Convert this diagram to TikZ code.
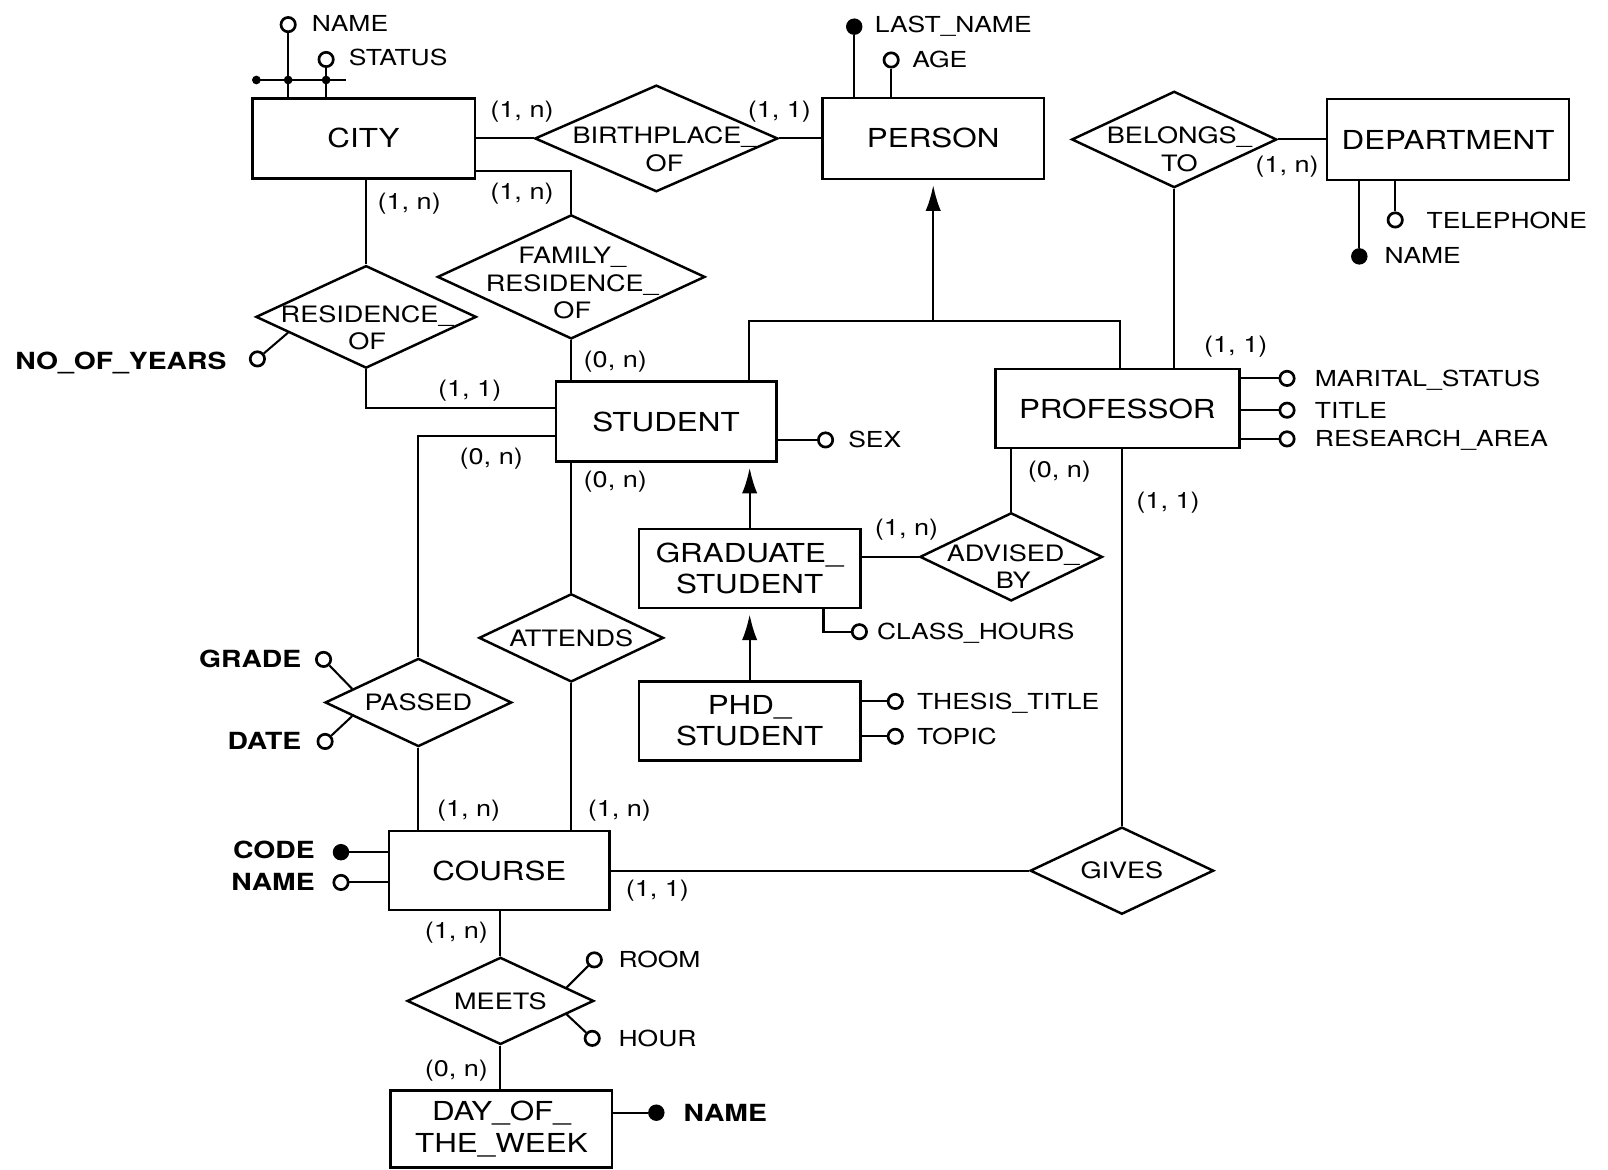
\documentclass[tikz,border=0pt]{standalone}
\usepackage{fontspec}
\newfontfamily\erfont[FakeStretch=1.2]{TeX Gyre Heros}
\usetikzlibrary{shapes.geometric,arrows.meta,calc}

\tikzset{
  entity/.style={draw, line width=2.4pt, rectangle, inner sep=0pt, align=center,
    font=\erfont\fontsize{25.5}{30.5}\selectfont},
  relship/.style={draw, line width=2.4pt, diamond, inner sep=0pt},
  reltext/.style={inner sep=0pt, align=center, font=\erfont\fontsize{22}{26.5}\selectfont},
  card/.style={inner sep=0pt, text height=15.5pt, text depth=0pt,
    font=\erfont\fontsize{22}{24}\selectfont},
  attrtext/.style={inner sep=0pt, text height=15.4pt, text depth=0pt,
    font=\erfont\fontsize{21.5}{24}\selectfont},
  keytext/.style={inner sep=0pt, text height=16.5pt, text depth=0pt,
    font=\erfont\bfseries\fontsize{23}{26}\selectfont},
  attr/.style={circle, draw, line width=2.6pt, fill=white, minimum size=14pt, inner sep=0pt},
  keyattr/.style={circle, draw, line width=1pt, fill=black, minimum size=15pt, inner sep=0pt},
  joint/.style={circle, fill=black, minimum size=8.5pt, inner sep=0pt},
  link/.style={line width=2pt},
  isa/.style={line width=2pt, -{Latex[length=25pt,width=15pt]}, shorten >=5pt},
}

\begin{document}
\begin{tikzpicture}[x=1pt,y=-1pt]
\fill[white] (0,0) rectangle (1568,1140);
\useasboundingbox (0,0) rectangle (1568,1140);

% ---------- entities ----------
\node[entity, minimum width=217, minimum height=78] (city)    at (354.5,135)  {CITY};
\node[entity, minimum width=216, minimum height=79] (person)  at (910,135)    {PERSON};
\node[entity, minimum width=236, minimum height=79] (dept)    at (1412,136)   {DEPARTMENT};
\node[entity, minimum width=215, minimum height=78] (student) at (649.5,411)  {STUDENT};
\node[entity, minimum width=238, minimum height=77] (prof)    at (1089.5,398.5) {PROFESSOR};
\node[entity, minimum width=216, minimum height=77] (grad)    at (731,554.5)  {GRADUATE\_\\STUDENT};
\node[entity, minimum width=216, minimum height=77] (phd)     at (731,703)    {PHD\_\\STUDENT};
\node[entity, minimum width=215, minimum height=77] (course)  at (487,849)    {COURSE};
\node[entity, minimum width=216, minimum height=75] (day)     at (489,1101)   {DAY\_OF\_\\THE\_WEEK};

% ---------- relationships ----------
\node[relship, minimum width=237, minimum height=104] (bp)  at (640,135)  {};
\node[relship, minimum width=200, minimum height=94]  (bel) at (1145,136) {};
\node[relship, minimum width=215, minimum height=100] (res) at (357,309)  {};
\node[relship, minimum width=261, minimum height=121] (fro) at (557,270)  {};
\node[relship, minimum width=178, minimum height=86]  (adv) at (986,543)  {};
\node[relship, minimum width=180, minimum height=86]  (att) at (557,622)  {};
\node[relship, minimum width=182, minimum height=86]  (pas) at (408,685)  {};
\node[relship, minimum width=179, minimum height=85]  (giv) at (1094,849) {};
\node[relship, minimum width=182, minimum height=85]  (mee) at (488,976)  {};

\node[reltext] (bp-t)  at ([xshift=8pt,yshift=-10.5pt]bp.center)  {BIRTHPLACE\_\\OF};
\node[reltext] (bel-t) at ([xshift=5pt,yshift=-9.5pt]bel.center)  {BELONGS\_\\TO};
\node[reltext] (res-t) at ([xshift=1pt,yshift=-11pt]res.center)   {RESIDENCE\_\\OF};
\node[reltext] (fro-t) at ([xshift=1pt,yshift=-6pt]fro.center)    {FAMILY\_\\RESIDENCE\_\\OF};
\node[reltext] (adv-t) at ([xshift=2pt,yshift=-9.5pt]adv.center)  {ADVISED\_\\BY};
\node[reltext] (att-t) at (att) {ATTENDS};
\node[reltext] (pas-t) at (pas) {PASSED};
\node[reltext] (giv-t) at (giv) {GIVES};
\node[reltext] (mee-t) at (mee) {MEETS};

% ---------- relationship links ----------
\draw[link] (city.east) -- (bp.west);
\draw[link] (bp.east) -- (person.west);
\draw[link] ([yshift=8pt]city.south east) -| (fro.north);
\draw[link] (res.north) -- (res.north |- city.south);
\draw[link] (res.south) |- ([yshift=13pt]student.west);
\draw[link] (fro.south) -- (fro.south |- student.north);
\draw[link] ([yshift=-14pt]student.west) -| (pas.north);
\draw[link] (att.north) -- (att.north |- student.south);
\draw[link] (pas.south) -- (pas.south |- course.north);
\draw[link] (att.south) -- (att.south |- course.north);
\draw[link] (course.east) -- (giv.west);
\draw[link] (giv.north) -- (giv.north |- prof.south);
\draw[link] (adv.north) -- (adv.north |- prof.south);
\draw[link] (adv.west -| grad.east) -- (adv.west);
\draw[link] (bel.south) -- (bel.south |- prof.north);
\draw[link] (bel.east) -- (dept.west);
\draw[link] (mee.north) -- (mee.north |- course.south);
\draw[link] (mee.south) -- (mee.south |- day.north);

% ---------- generalisations ----------
\coordinate (isaL) at (730,313);
\coordinate (isaR) at (1092,313);
\draw[link] (isaL |- student.north) -- (isaL) -- (isaR) -- (isaR |- prof.north);
\draw[isa] (isaL -| person.south) -- (person.south);
\draw[isa] (grad.north) -- (grad.north |- student.south);
\draw[isa] (phd.north) -- (phd.north |- grad.south);

% ---------- cardinalities ----------
\node[card] (k1)  at (509,107)  {(1, n)};
\node[card] (k2)  at (760,107)  {(1, 1)};
\node[card] (k3)  at (509,187)  {(1, n)};
\node[card] (k4)  at (399,197)  {(1, n)};
\node[card] (k5)  at (600,351)  {(0, n)};
\node[card] (k6)  at (458,379)  {(1, 1)};
\node[card] (k7)  at (479,445)  {(0, n)};
\node[card] (k8)  at (600,468)  {(0, n)};
\node[card] (k9)  at (884,514)  {(1, n)};
\node[card] (k10) at (1033,458) {(0, n)};
\node[card] (k11) at (1139,488) {(1, 1)};
\node[card] (k12) at (1205,336) {(1, 1)};
\node[card] (k13) at (1255,160) {(1, n)};
\node[card] (k14) at (457,788)  {(1, n)};
\node[card] (k15) at (604,788)  {(1, n)};
\node[card] (k16) at (641,866)  {(1, 1)};
\node[card] (k17) at (445,907)  {(1, n)};
\node[card] (k18) at (445,1042) {(0, n)};

% ---------- attributes: CITY (composite identifier) ----------
\node[attr] (c-name)   at (281,24) {};
\node[attr] (c-status) at (318,58) {};
\draw[link] (c-name) -- (c-name |- city.north);
\draw[link] (c-status) -- (c-status |- city.north);
\coordinate (c-barL) at (250,78);
\coordinate (c-barR) at (337,78);
\draw[link] (c-barL) -- (c-barR);
\node[joint] (c-j0) at (c-barL) {};
\node[joint] (c-j1) at (c-name |- c-barL) {};
\node[joint] (c-j2) at (c-status |- c-barL) {};
\node[attrtext, anchor=west] (c-name-t)   at (304,23) {NAME};
\node[attrtext, anchor=west] (c-status-t) at (340,56) {STATUS};

% ---------- attributes: PERSON ----------
\node[keyattr] (p-last) at (833,26) {};
\draw[link] (p-last) -- (p-last |- person.north);
\node[attr] (p-age) at (869,58.5) {};
\draw[link] (p-age) -- (p-age |- person.north);
\node[attrtext, anchor=west] (p-last-t) at (853,24) {LAST\_NAME};
\node[attrtext, anchor=west] (p-age-t)  at (889.5,58) {AGE};

% ---------- attributes: DEPARTMENT ----------
\node[keyattr] (d-name) at (1325.5,250) {};
\draw[link] (d-name) -- (d-name |- dept.south);
\node[attr] (d-tel) at (1360.5,214.5) {};
\draw[link] (d-tel) -- (d-tel |- dept.south);
\node[attrtext, anchor=west] (d-tel-t)  at (1391,215) {TELEPHONE};
\node[attrtext, anchor=west] (d-name-t) at (1350,249) {NAME};

% ---------- attributes: PROFESSOR ----------
\node[attr] (pr-mar) at (1255,369) {};
\node[attr] (pr-tit) at (1255,400) {};
\node[attr] (pr-res) at (1255,428) {};
\draw[link] (pr-mar) -- (pr-mar -| prof.east);
\draw[link] (pr-tit) -- (pr-tit -| prof.east);
\draw[link] (pr-res) -- (pr-res -| prof.east);
\node[attrtext, anchor=west] (pr-mar-t) at (1282,369) {MARITAL\_STATUS};
\node[attrtext, anchor=west] (pr-tit-t) at (1282,400) {TITLE};
\node[attrtext, anchor=west] (pr-res-t) at (1282,428) {RESEARCH\_AREA};

% ---------- attributes: STUDENT and subclasses ----------
\node[attr] (s-sex) at (805,429) {};
\draw[link] (s-sex) -- (s-sex -| student.east);
\node[attrtext, anchor=west] (s-sex-t) at (827,429) {SEX};

\node[attr] (g-hrs) at (838,616) {};
\draw[link] (g-hrs) -| ([xshift=72pt]grad.south);
\node[attrtext, anchor=west] (g-hrs-t) at (855,616) {CLASS\_HOURS};

\node[attr] (h-tt)  at (873,684) {};
\node[attr] (h-top) at (873,718) {};
\draw[link] (h-tt) -- (h-tt -| phd.east);
\draw[link] (h-top) -- (h-top -| phd.east);
\node[attrtext, anchor=west] (h-tt-t)  at (894,684) {THESIS\_TITLE};
\node[attrtext, anchor=west] (h-top-t) at (894,718) {TOPIC};

% ---------- attributes: COURSE and DAY_OF_THE_WEEK ----------
\node[keyattr] (co-code) at (332.5,831) {};
\node[attr] (co-name) at (332.5,860.5) {};
\draw[link] (co-code) -- (co-code -| course.west);
\draw[link] (co-name) -- (co-name -| course.west);
\node[keytext, anchor=east] (co-code-t) at (307,829) {CODE};
\node[keytext, anchor=east] (co-name-t) at (307,860) {NAME};

\node[keyattr] (dw-name) at (640,1085) {};
\draw[link] (dw-name) -- (dw-name -| day.east);
\node[keytext, anchor=west] (dw-name-t) at (666.5,1085) {NAME};

% ---------- attributes of relationships ----------
\node[attr] (r-yrs) at (251,350) {};
\draw[link] (r-yrs) -- ($(res.west)!0.3!(res.south)$);
\node[keytext, anchor=east] (r-yrs-t) at (221,352) {NO\_OF\_YEARS};

\node[attr] (pa-gr) at (315.5,643) {};
\draw[link] (pa-gr) -- ($(pas.west)!0.3!(pas.north)$);
\node[attr] (pa-dt) at (317,723) {};
\draw[link] (pa-dt) -- ($(pas.west)!0.3!(pas.south)$);
\node[keytext, anchor=east] (pa-gr-t) at (294,643) {GRADE};
\node[keytext, anchor=east] (pa-dt-t) at (294,723) {DATE};

\node[attr] (m-room) at (579.5,936) {};
\draw[link] (m-room) -- ($(mee.east)!0.3!(mee.north)$);
\node[attr] (m-hour) at (577.5,1012.5) {};
\draw[link] (m-hour) -- ($(mee.east)!0.3!(mee.south)$);
\node[attrtext, anchor=west] (m-room-t) at (603,936) {ROOM};
\node[attrtext, anchor=west] (m-hour-t) at (603,1013) {HOUR};
\end{tikzpicture}
\end{document}
